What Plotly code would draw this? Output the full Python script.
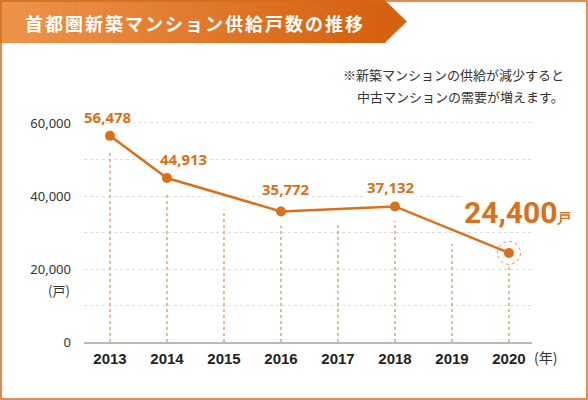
import numpy as np
import plotly.graph_objects as go

# ---- data ----
years = [2013, 2014, 2015, 2016, 2017, 2018, 2019, 2020]
point_years = [2013, 2014, 2016, 2018, 2020]
supply = [56478, 44913, 35772, 37132, 24400]
y_ticks = [0, 10000, 20000, 30000, 40000, 50000, 60000]
y_ticktext = ["0", "", "20,000", "", "40,000", "", "60,000"]
title = "首都圏新築マンション供給戸数の推移"
note1 = "※新築マンションの供給が減少すると"
note2 = "中古マンションの需要が増えます。"
highlight_text = "24,400"
unit = "戸"

# ---- style ----
W, H = 588, 400
L, R, T, B = 84, 56, 110, 58
ORANGE = "#D9701A"
STEM = "#E8934A"
JP = "Noto Sans CJK JP"

pw, ph = W - L - R, H - T - B


def px(x):
    return (x - L) / pw


def py(y):
    return (H - B - y) / ph


fig = go.Figure()

# decorative vertical dotted stems
gap = 4000
line_at = np.interp(years, point_years, supply)
sx, sy = [], []
for yr, v in zip(years, line_at):
    sx += [yr, yr, None]
    sy += [0, v - gap, None]
fig.add_trace(go.Scatter(x=sx, y=sy, mode="lines", hoverinfo="skip",
                         line=dict(color=STEM, width=1.3, dash="dot"),
                         showlegend=False))

# main line
fig.add_trace(go.Scatter(x=point_years, y=supply, mode="lines+markers",
                         line=dict(color=ORANGE, width=2.5),
                         marker=dict(color=ORANGE, size=10),
                         showlegend=False))

shapes = []
# banner gradient (stepped)
c0 = np.array([237, 148, 74])
c1 = np.array([213, 98, 16])
n = 64
bx1 = 385
for i in range(n):
    t = i / (n - 1)
    c = (c0 + (c1 - c0) * t).astype(int)
    shapes.append(dict(type="rect", xref="paper", yref="paper",
                       x0=px(bx1 * i / n), x1=px(bx1 * (i + 1) / n + 0.6),
                       y0=py(43), y1=py(0), line=dict(width=0),
                       fillcolor=f"rgb({c[0]},{c[1]},{c[2]})", layer="below"))
shapes.append(dict(type="path", xref="paper", yref="paper",
                   path=f"M {px(384.5)} {py(0)} L {px(407)} {py(21.5)} L {px(384.5)} {py(43)} Z",
                   line=dict(width=0), fillcolor="rgb(213,98,16)", layer="below"))
# frame
shapes.append(dict(type="rect", xref="paper", yref="paper",
                   x0=px(1), x1=px(587), y0=py(399), y1=py(1),
                   line=dict(color="#D26A1E", width=1.5)))
# highlight circle
shapes.append(dict(type="circle", xref="x", yref="y", xsizemode="pixel", ysizemode="pixel",
                   xanchor=point_years[-1], yanchor=supply[-1],
                   x0=-11.5, x1=11.5, y0=-11.5, y1=11.5,
                   line=dict(color=STEM, width=1, dash="dot")))

ann = []
ann.append(dict(text=f"<span style='letter-spacing:2px'>{title}</span>",
                xref="paper", yref="paper", x=px(23), y=py(23),
                xanchor="left", yanchor="middle", showarrow=False,
                font=dict(family=JP, size=18, color="white", weight="bold")))
ann.append(dict(text=note1, xref="paper", yref="paper", x=px(566), y=py(75),
                xanchor="right", yanchor="middle", showarrow=False,
                font=dict(family=JP, size=13, color="#333")))
ann.append(dict(text=note2, xref="paper", yref="paper", x=px(566), y=py(97),
                xanchor="right", yanchor="middle", showarrow=False,
                font=dict(family=JP, size=13, color="#333")))
ann.append(dict(text="(戸)", xref="paper", yref="paper", x=px(72), y=py(290),
                xanchor="right", yanchor="middle", showarrow=False,
                font=dict(family=JP, size=13, color="#333")))
ann.append(dict(text="(年)", xref="paper", yref="paper", x=px(532), y=py(357),
                xanchor="left", yanchor="middle", showarrow=False,
                font=dict(family=JP, size=14, color="#333")))

label_shift = {2013: (-2, 19), 2014: (17, 19), 2016: (5, 22), 2018: (-4, 19)}
for yr, v in zip(point_years, supply):
    if yr in label_shift:
        dx, dy = label_shift[yr]
        ann.append(dict(text=f"{v:,}", x=yr, y=v, xshift=dx, yshift=dy,
                        xanchor="center", yanchor="middle", showarrow=False,
                        bgcolor="white", borderpad=1,
                        font=dict(family="Noto Sans", size=15, color=ORANGE, weight="bold")))
ann.append(dict(text=f"{highlight_text}<span style='font-size:14px'>{unit}</span>",
                x=point_years[-1], y=supply[-1], xshift=-47, yshift=40,
                xanchor="left", yanchor="middle", showarrow=False, bgcolor="white",
                font=dict(family="Roboto", size=30, color=ORANGE, weight="bold")))

fig.update_layout(
    width=W, height=H, margin=dict(l=L, r=R, t=T, b=B),
    paper_bgcolor="white", plot_bgcolor="white",
    shapes=shapes, annotations=ann,
    xaxis=dict(range=[2012.544, 2020.404], tickvals=years,
               ticktext=[str(y) for y in years], showgrid=False, zeroline=False,
               showline=True, linecolor="#BDB8B3", linewidth=2, ticks="",
               ticklabelstandoff=2,
               tickfont=dict(family="Liberation Sans", size=15, color="#222", weight="bold")),
    yaxis=dict(range=[0, 63560], tickvals=y_ticks, ticktext=y_ticktext,
               showgrid=True, gridcolor="#DDDDDD", griddash="dot", gridwidth=1,
               zeroline=False, ticks="", ticklabelstandoff=12,
               tickfont=dict(family="Noto Sans", size=13, color="#333")),
)

fig.write_html("out.html", config={"displayModeBar": False},
               post_script="document.body.style.margin='0';document.body.style.padding='0';")
